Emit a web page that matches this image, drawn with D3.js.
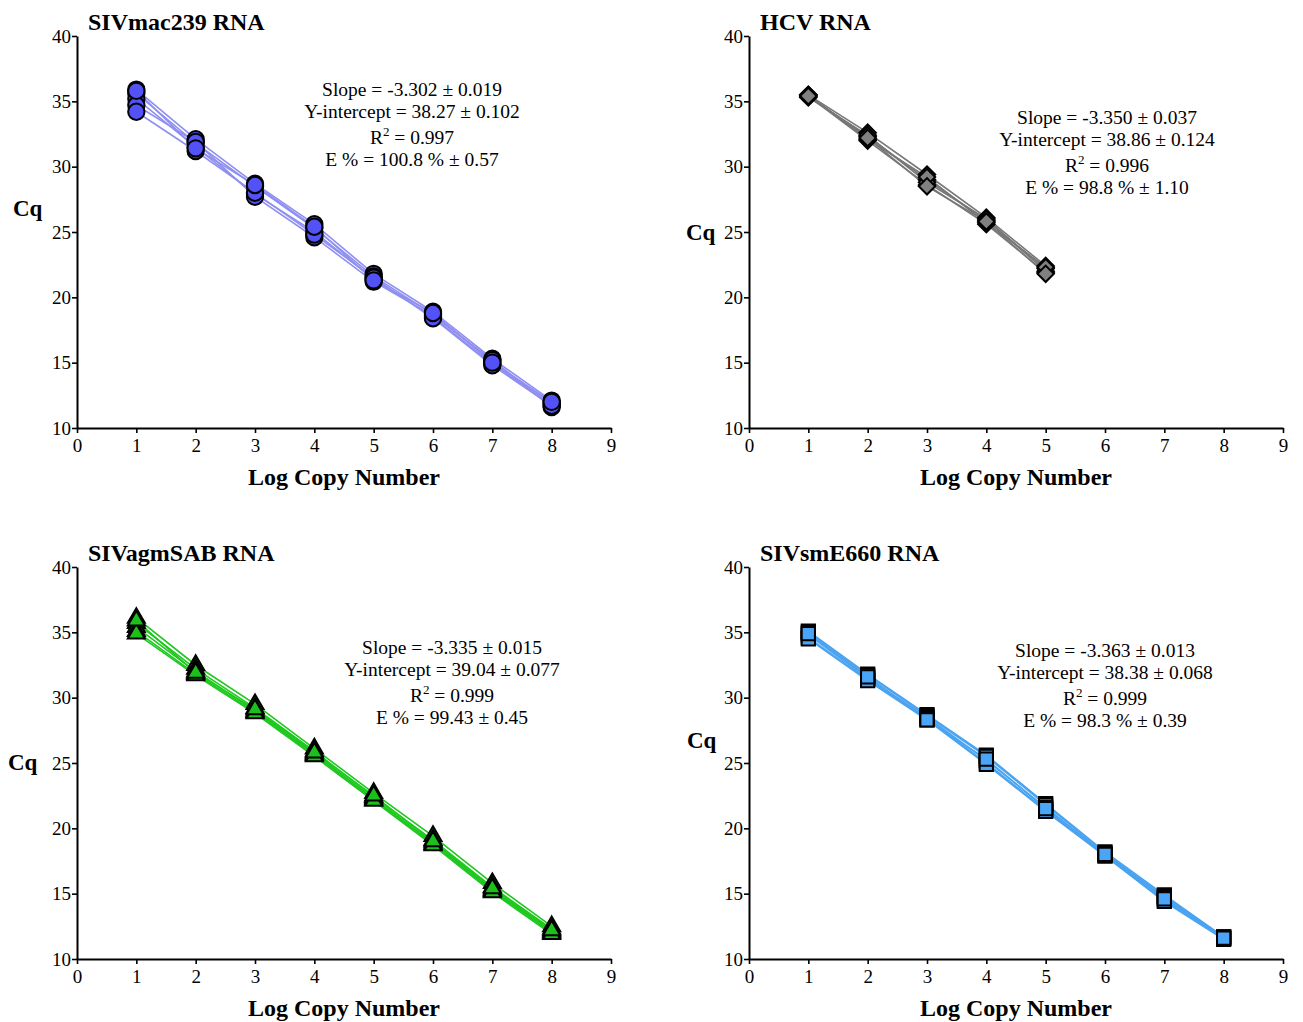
<!DOCTYPE html>
<html>
<head>
<meta charset="utf-8">
<script src="https://cdn.jsdelivr.net/npm/d3@7"></script>
<style>
  body { margin: 0; background: #fff; }
  text { font-family: "Liberation Serif", "Times New Roman", serif; }
</style>
</head>
<body>
<div class="chart"></div>
<script>
const xTicks = [0, 1, 2, 3, 4, 5, 6, 7, 8, 9];
const yTicks = [10, 15, 20, 25, 30, 35, 40];

const logCopies8 = [1, 2, 3, 4, 5, 6, 7, 8];
const logCopies5 = [1, 2, 3, 4, 5];

// replicate standard curves (Cq per log copy number)
const sivmacCq = [
  [35.9, 32.1, 28.7, 25.6, 21.8, 18.9, 15.3, 12.1],
  [35.6, 31.8, 28.5, 25.3, 21.6, 18.7, 15.1, 11.9],
  [35.2, 31.5, 27.9, 25.0, 21.4, 18.5, 14.9, 11.8],
  [34.7, 31.9, 27.7, 24.6, 21.2, 18.6, 15.2, 11.6],
  [34.2, 31.2, 28.0, 24.8, 21.5, 18.4, 14.8, 11.7],
  [35.8, 31.4, 28.6, 25.4, 21.3, 18.8, 15.0, 12.0],
];
const hcvCq = [
  [35.5, 32.6, 29.4, 26.1, 22.4],
  [35.4, 32.3, 29.0, 25.9, 22.2],
  [35.4, 32.0, 28.6, 25.6, 21.9],
  [35.3, 32.4, 28.8, 26.0, 22.0],
  [35.5, 32.1, 29.2, 25.7, 22.3],
  [35.4, 32.2, 28.5, 25.8, 21.8],
];
const sivagmCq = [
  [36.1, 32.5, 29.5, 26.1, 22.7, 19.4, 15.8, 12.5],
  [35.7, 32.2, 29.2, 25.9, 22.4, 19.1, 15.5, 12.3],
  [35.4, 32.0, 29.0, 25.7, 22.3, 18.9, 15.3, 12.1],
  [35.1, 31.8, 28.9, 25.6, 22.2, 18.8, 15.2, 12.0],
  [34.9, 31.7, 28.8, 25.5, 22.1, 18.7, 15.1, 11.9],
  [35.9, 31.9, 29.1, 25.8, 22.5, 19.0, 15.4, 12.2],
];
const sivsmCq = [
  [35.1, 31.8, 28.7, 25.6, 21.9, 18.2, 14.9, 11.7],
  [35.0, 31.7, 28.6, 25.5, 21.8, 18.1, 14.8, 11.7],
  [34.8, 31.5, 28.5, 25.2, 21.6, 18.0, 14.7, 11.6],
  [34.6, 31.4, 28.4, 25.0, 21.4, 17.9, 14.5, 11.6],
  [34.5, 31.3, 28.3, 24.9, 21.3, 17.9, 14.4, 11.5],
  [34.9, 31.6, 28.3, 25.3, 21.5, 18.0, 14.6, 11.6],
];

const panelTitles = ["SIVmac239 RNA", "HCV RNA", "SIVagmSAB RNA", "SIVsmE660 RNA"];
const slopeText = ["-3.302 ± 0.019", "-3.350 ± 0.037", "-3.335 ± 0.015", "-3.363 ± 0.013"];
const interceptText = ["38.27 ± 0.102", "38.86 ± 0.124", "39.04 ± 0.077", "38.38 ± 0.068"];
const r2Text = ["0.997", "0.996", "0.999", "0.999"];
const effText = ["100.8 % ± 0.57", "98.8 % ± 1.10", "99.43 ± 0.45", "98.3 % ± 0.39"];

const width = 1303;
const height = 1022;

const svg = d3.select(".chart")
  .append("svg")
  .attr("width", width)
  .attr("height", height)
  .style("display", "block");

const panels = [
  { data: sivmacCq, xs: logCopies8, left: 77, top: 36, shape: d3.symbolCircle, size: 210, rot: 0,
    fill: "#5252f7", line: "#8f8ff2", note: { x: 412, y: 96 }, cq: { x: 13, y: 216 } },
  { data: hcvCq, xs: logCopies5, left: 749, top: 36, shape: d3.symbolSquare, size: 135, rot: 45,
    fill: "#808080", line: "#777777", note: { x: 1107, y: 124 }, cq: { x: 686, y: 240 } },
  { data: sivagmCq, xs: logCopies8, left: 77, top: 567, shape: d3.symbolTriangle, size: 125, rot: 0,
    fill: "#1cbf1c", line: "#1ec81e", note: { x: 452, y: 654 }, cq: { x: 8, y: 770 } },
  { data: sivsmCq, xs: logCopies8, left: 749, top: 567, shape: d3.symbolSquare, size: 175, rot: 0,
    fill: "#4aa5f7", line: "#4aa3f0", note: { x: 1105, y: 657 }, cq: { x: 687, y: 748 } },
];

const plotW = 534;
const plotH = 392;

function styleAxis(a) {
  a.select(".domain").attr("stroke", "#000").attr("stroke-width", 2);
  a.selectAll(".tick line").attr("stroke", "#000").attr("stroke-width", 1.6);
  a.selectAll("text")
    .style("font-family", "'Liberation Serif', serif")
    .style("font-size", "19px")
    .attr("fill", "#000");
}

panels.forEach((p, i) => {
  const g = svg.append("g").attr("transform", `translate(${p.left},${p.top})`);

  const x = d3.scaleLinear().domain([0, 9]).range([0, plotW]);
  const y = d3.scaleLinear().domain([10, 40]).range([plotH, 0]);

  g.append("g")
    .attr("transform", `translate(0,${plotH})`)
    .call(d3.axisBottom(x).tickValues(xTicks).tickSize(5).tickSizeOuter(0).tickPadding(6))
    .call(styleAxis);

  g.append("g")
    .call(d3.axisLeft(y).tickValues(yTicks).tickSize(5).tickSizeOuter(0).tickPadding(1))
    .call(styleAxis);

  const line = d3.line().x((d, j) => x(p.xs[j])).y((d) => y(d));

  g.selectAll(".rep")
    .data(p.data)
    .join("path")
    .attr("class", "rep")
    .attr("d", line)
    .attr("fill", "none")
    .attr("stroke", p.line)
    .attr("stroke-width", 1.6);

  const points = p.data.flatMap((row) => row.map((v, j) => ({ lx: p.xs[j], cq: v })));
  const symbol = d3.symbol().type(p.shape).size(p.size);

  g.selectAll(".pt")
    .data(points)
    .join("path")
    .attr("class", "pt")
    .attr("transform", (d) => `translate(${x(d.lx)},${y(d.cq)}) rotate(${p.rot})`)
    .attr("d", symbol)
    .attr("fill", p.fill)
    .attr("stroke", "#000")
    .attr("stroke-width", 2);

  // titles and labels
  svg.append("text")
    .attr("x", p.left + 11)
    .attr("y", p.top - 6)
    .style("font-size", "24px")
    .style("font-weight", "700")
    .text(panelTitles[i]);

  svg.append("text")
    .attr("x", p.left + plotW / 2)
    .attr("y", p.top + plotH + 57)
    .attr("text-anchor", "middle")
    .style("font-size", "24px")
    .style("font-weight", "700")
    .text("Log Copy Number");

  svg.append("text")
    .attr("x", p.cq.x)
    .attr("y", p.cq.y)
    .style("font-size", "23px")
    .style("font-weight", "700")
    .text("Cq");

  const note = svg.append("g").attr("text-anchor", "middle").style("font-size", "19.5px");
  note.append("text").attr("x", p.note.x).attr("y", p.note.y).text(`Slope = ${slopeText[i]}`);
  note.append("text").attr("x", p.note.x).attr("y", p.note.y + 22).text(`Y-intercept = ${interceptText[i]}`);
  const r2 = note.append("text").attr("x", p.note.x).attr("y", p.note.y + 48);
  r2.append("tspan").text("R");
  r2.append("tspan").attr("dy", -8).style("font-size", "13px").text("2");
  r2.append("tspan").attr("dy", 8).text(` = ${r2Text[i]}`);
  note.append("text").attr("x", p.note.x).attr("y", p.note.y + 70).text(`E % = ${effText[i]}`);
});
</script>
</body>
</html>
